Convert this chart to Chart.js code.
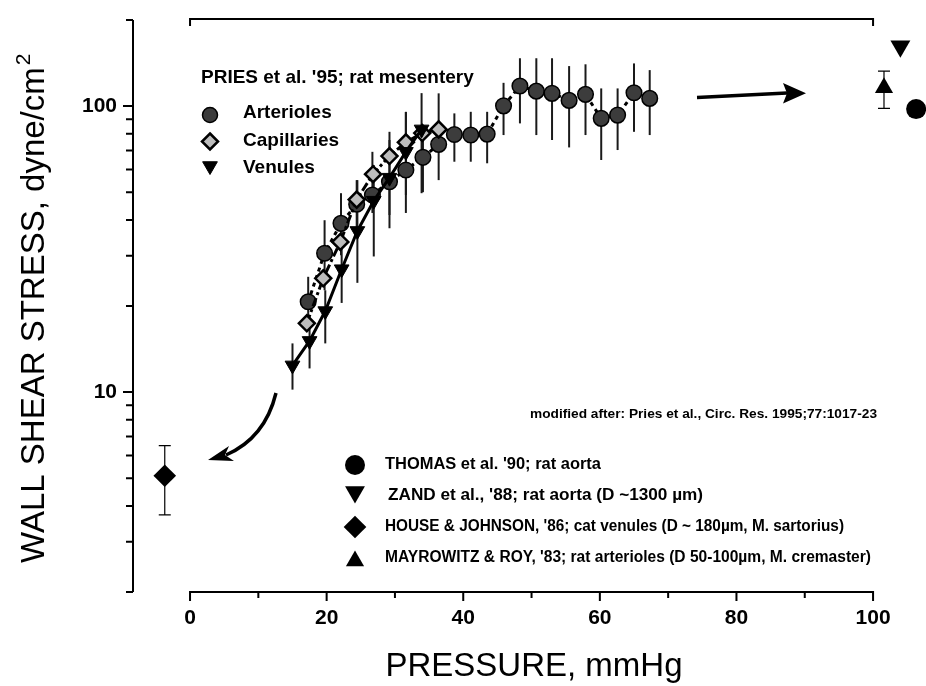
<!DOCTYPE html>
<html>
<head>
<meta charset="utf-8">
<script src="https://cdn.jsdelivr.net/npm/chart.js@4.4.1/dist/chart.umd.min.js"></script>
<style>
  html, body { margin: 0; padding: 0; background: #fff; }
  canvas { display: block; }
</style>
</head>
<body>
<canvas id="shearChart" width="926" height="686"></canvas>
<script>
// ===== Data (Pries et al. '95; rat mesentery) =====
const arterioleX  = [17.3, 19.7, 22.1, 24.4, 26.7, 29.2, 31.6, 34.1, 36.4, 38.7, 41.1, 43.5, 45.9, 48.3, 50.7, 53.0, 55.5, 57.9, 60.2, 62.6, 65.0, 67.3];
const arterioleY  = [20.7, 30.6, 38.9, 45.4, 48.9, 54.4, 59.8, 66.2, 73.5, 79.6, 79.2, 79.8, 100.2, 117.5, 112.8, 110.8, 104.7, 109.9, 90.6, 93.0, 111.3, 106.4];
const arterioleHi = [25.3, 39.9, 49.6, 55.1, 69.2, 81.3, 95.5, 85.0, 110.8, 94.3, 95.5, 95.5, 120.6, 147, 147, 147, 138, 140, 115.3, 115.3, 141, 133.6];
const arterioleLo = [16.9, 22.7, 30.1, 35.9, 42.3, 37.4, 42.3, 50.0, 55.1, 63.9, 63.9, 63.1, 79.2, 87.0, 79.2, 76.1, 71.7, 79.2, 64.8, 70.2, 81.3, 79.2];

const capillaryX = [17.1, 19.5, 22.0, 24.4, 26.8, 29.2, 31.6, 34.0, 36.4];
const capillaryY = [17.4, 25.0, 33.5, 47.1, 57.8, 66.9, 74.7, 80.5, 82.9];

const venuleX  = [15.0, 17.5, 19.8, 22.2, 24.5, 26.9, 29.2, 31.6, 33.9];
const venuleY  = [12.4, 15.1, 19.2, 26.9, 36.6, 46.7, 56.2, 69.2, 82.9];
const venuleHi = [14.8, 18.2, 22.7, 36.8, 55.1, 62.2, 76.1, 95.3, 111];
const venuleLo = [10.2, 12.1, 14.8, 20.5, 24.1, 29.8, 41.6, 48.9, 49.6];

// ===== Other studies =====
const thomasX = [106.3];   const thomasY = [97.6];
const zandX = [104.0];     const zandY = [162.0];
const houseX = [-3.7];     const houseY = [5.1];   const houseHi = [6.5];   const houseLo = [3.72];
const mayroX = [101.6];    const mayroY = [116];   const mayroHi = [132.6]; const mayroLo = [98.2];

// ===== Axes =====
const xTicks = [0, 10, 20, 30, 40, 50, 60, 70, 80, 90, 100];
const xLabels = [0, 20, 40, 60, 80, 100];
const yTicks = [2, 3, 4, 5, 6, 7, 8, 9, 10, 20, 30, 40, 50, 60, 70, 80, 90, 100, 200];
const yLabels = [10, 100];

const FONT = '"Liberation Sans", Arial, Helvetica, sans-serif';
const toPoints = (xs, ys) => xs.map((x, i) => ({ x: x, y: ys[i] }));

// simple marker for the legends
function marker(ctx, style, x, y, r, fill, lw) {
  ctx.save();
  ctx.fillStyle = fill;
  ctx.strokeStyle = '#000';
  ctx.lineWidth = lw;
  ctx.beginPath();
  if (style === 'circle') {
    ctx.arc(x, y, r, 0, Math.PI * 2);
  } else if (style === 'diamond') {
    ctx.moveTo(x, y - r); ctx.lineTo(x + r, y); ctx.lineTo(x, y + r); ctx.lineTo(x - r, y);
    ctx.closePath();
  } else if (style === 'down') {
    const h = r * Math.sqrt(3) / 2;
    ctx.moveTo(x - h, y - r / 2); ctx.lineTo(x + h, y - r / 2); ctx.lineTo(x, y + r);
    ctx.closePath();
  } else if (style === 'up') {
    const h = r * Math.sqrt(3) / 2;
    ctx.moveTo(x - h, y + r / 2); ctx.lineTo(x + h, y + r / 2); ctx.lineTo(x, y - r);
    ctx.closePath();
  }
  ctx.fill();
  if (lw > 0) ctx.stroke();
  ctx.restore();
}

// text squeezed/stretched to the width it has in the figure
function fitText(ctx, text, left, right, y) {
  const w = ctx.measureText(text).width;
  ctx.save();
  ctx.translate(left, y);
  ctx.scale((right - left) / w, 1);
  ctx.fillText(text, 0, 0);
  ctx.restore();
}

// ===== Error bars (under the markers) =====
const errorBarPlugin = {
  id: 'errorBars',
  beforeDatasetsDraw(chart) {
    const { ctx, scales: { x, y } } = chart;
    const bars = (xs, his, los, cap, lw) => {
      xs.forEach((v, i) => {
        const px = x.getPixelForValue(v);
        const top = y.getPixelForValue(his[i]);
        const bot = y.getPixelForValue(los[i]);
        ctx.lineWidth = lw;
        ctx.beginPath();
        ctx.moveTo(px, top); ctx.lineTo(px, bot);
        if (cap) {
          ctx.moveTo(px - cap, top); ctx.lineTo(px + cap, top);
          ctx.moveTo(px - cap, bot); ctx.lineTo(px + cap, bot);
        }
        ctx.stroke();
      });
    };
    ctx.save();
    ctx.strokeStyle = '#1a1a1a';
    bars(arterioleX, arterioleHi, arterioleLo, 0, 2);
    bars(venuleX, venuleHi, venuleLo, 0, 2);
    ctx.strokeStyle = '#000';
    bars(houseX, houseHi, houseLo, 6, 1.2);
    bars(mayroX, mayroHi, mayroLo, 6, 1.2);
    ctx.restore();
  }
};

// ===== Axis lines, ticks, titles, legends, arrows =====
const decorPlugin = {
  id: 'decor',
  afterDraw(chart) {
    const { ctx, scales: { x, y } } = chart;
    const x0 = x.getPixelForValue(0), x100 = x.getPixelForValue(100);
    const yBot = y.getPixelForValue(2), yTop = y.getPixelForValue(200);
    const axisX = chart.chartArea.left;
    ctx.save();
    ctx.strokeStyle = '#000';
    ctx.fillStyle = '#000';
    ctx.lineCap = 'butt';

    // y axis
    ctx.lineWidth = 2;
    ctx.beginPath();
    ctx.moveTo(axisX, yTop); ctx.lineTo(axisX, yBot);
    yTicks.forEach(v => {
      const py = y.getPixelForValue(v);
      const len = yLabels.includes(v) ? 10 : 7;
      ctx.moveTo(axisX, py); ctx.lineTo(axisX - len, py);
    });
    ctx.stroke();

    // bottom x axis
    ctx.beginPath();
    ctx.moveTo(x0 - 1, yBot); ctx.lineTo(x100 + 1, yBot);
    xTicks.forEach(v => {
      const px = x.getPixelForValue(v);
      const len = xLabels.includes(v) ? 9 : 6;
      ctx.moveTo(px, yBot); ctx.lineTo(px, yBot + len);
    });
    ctx.stroke();

    // top frame line
    ctx.beginPath();
    ctx.moveTo(x0, yTop + 6); ctx.lineTo(x0, yTop - 1); ctx.lineTo(x100, yTop - 1); ctx.lineTo(x100, yTop + 6);
    ctx.stroke();

    // axis titles
    ctx.font = '33px ' + FONT;
    ctx.textBaseline = 'alphabetic';
    ctx.textAlign = 'center';
    ctx.fillText('PRESSURE, mmHg', 534, 676);

    ctx.save();
    ctx.translate(44, 563);
    ctx.rotate(-Math.PI / 2);
    ctx.textAlign = 'left';
    const yTitle = 'WALL SHEAR STRESS, dyne/cm';
    ctx.fillText(yTitle, 0, 0);
    const w = ctx.measureText(yTitle).width;
    ctx.font = '21px ' + FONT;
    ctx.fillText('2', w + 2, -14);
    ctx.restore();

    // top legend (Pries)
    ctx.textAlign = 'left';
    ctx.textBaseline = 'middle';
    ctx.font = 'bold 19px ' + FONT;
    ctx.fillText("PRIES et al. '95; rat mesentery", 201, 78);
    ctx.fillText('Arterioles', 243, 113);
    ctx.fillText('Capillaries', 243, 141);
    ctx.fillText('Venules', 243, 168);
    marker(ctx, 'circle', 210, 115, 7.5, '#3c3c3c', 1.5);
    marker(ctx, 'diamond', 210, 141.5, 8, '#bdbdbd', 2.5);
    marker(ctx, 'down', 210, 166, 8.5, '#000', 1);

    // source note
    ctx.font = 'bold 12px ' + FONT;
    fitText(ctx, 'modified after: Pries et al., Circ. Res. 1995;77:1017-23', 530, 877, 415);

    // bottom legend (other studies)
    ctx.font = 'bold 16px ' + FONT;
    fitText(ctx, "THOMAS et al. '90; rat aorta", 385, 601, 465);
    fitText(ctx, "ZAND et al., '88; rat aorta (D ~1300 µm)", 388, 703, 496);
    fitText(ctx, "HOUSE & JOHNSON, '86; cat venules (D ~ 180µm, M. sartorius)", 385, 844, 527);
    fitText(ctx, "MAYROWITZ & ROY, '83; rat arterioles (D 50-100µm, M. cremaster)", 385, 871, 558);
    marker(ctx, 'circle', 355, 465, 10, '#000', 0);
    marker(ctx, 'down', 355, 492, 11.5, '#000', 0);
    marker(ctx, 'diamond', 355, 527, 11.3, '#000', 0);
    marker(ctx, 'up', 355, 561, 10.5, '#000', 0);

    // curved arrow to the left point
    ctx.lineWidth = 3.5;
    ctx.beginPath();
    ctx.moveTo(276, 393);
    ctx.quadraticCurveTo(265, 438, 226, 455);
    ctx.stroke();
    ctx.beginPath();
    ctx.moveTo(208, 460); ctx.lineTo(229, 446); ctx.lineTo(225, 455); ctx.lineTo(234, 461);
    ctx.closePath();
    ctx.fill();

    // straight arrow to the right points
    ctx.beginPath();
    ctx.moveTo(697, 97.5); ctx.lineTo(787, 93);
    ctx.stroke();
    ctx.beginPath();
    ctx.moveTo(806, 93.3); ctx.lineTo(783, 83); ctx.lineTo(787, 93.3); ctx.lineTo(783, 103.5);
    ctx.closePath();
    ctx.fill();

    ctx.restore();
  }
};

const ctx = document.getElementById('shearChart').getContext('2d');

new Chart(ctx, {
  type: 'scatter',
  data: {
    datasets: [
      {
        label: 'Venules',
        data: toPoints(venuleX, venuleY),
        showLine: true,
        borderColor: '#000',
        borderWidth: 3,
        pointStyle: 'triangle',
        pointRotation: 180,
        pointRadius: 8.5,
        pointBackgroundColor: '#000',
        pointBorderColor: '#000',
        pointBorderWidth: 1,
        clip: false
      },
      {
        label: 'Capillaries',
        data: toPoints(capillaryX, capillaryY),
        showLine: true,
        borderColor: '#000',
        borderWidth: 3,
        borderDash: [9, 3, 3, 3],
        pointStyle: 'rectRot',
        pointRadius: 8,
        pointBackgroundColor: '#bdbdbd',
        pointBorderColor: '#000',
        pointBorderWidth: 2.5,
        clip: false
      },
      {
        label: 'Arterioles',
        data: toPoints(arterioleX, arterioleY),
        showLine: true,
        borderColor: '#000',
        borderWidth: 3,
        borderDash: [4, 4],
        pointStyle: 'circle',
        pointRadius: 7.8,
        pointBackgroundColor: '#3c3c3c',
        pointBorderColor: '#000',
        pointBorderWidth: 1.5,
        clip: false
      },
      {
        label: "THOMAS et al. '90",
        data: toPoints(thomasX, thomasY),
        pointStyle: 'circle', pointRadius: 10,
        pointBackgroundColor: '#000', pointBorderColor: '#000', pointBorderWidth: 0,
        clip: false
      },
      {
        label: "ZAND et al., '88",
        data: toPoints(zandX, zandY),
        pointStyle: 'triangle', pointRotation: 180, pointRadius: 11.5,
        pointBackgroundColor: '#000', pointBorderColor: '#000', pointBorderWidth: 0,
        clip: false
      },
      {
        label: "HOUSE & JOHNSON, '86",
        data: toPoints(houseX, houseY),
        pointStyle: 'rectRot', pointRadius: 11.3,
        pointBackgroundColor: '#000', pointBorderColor: '#000', pointBorderWidth: 0,
        clip: false
      },
      {
        label: "MAYROWITZ & ROY, '83",
        data: toPoints(mayroX, mayroY),
        pointStyle: 'triangle', pointRadius: 10.5,
        pointBackgroundColor: '#000', pointBorderColor: '#000', pointBorderWidth: 0,
        clip: false
      }
    ]
  },
  options: {
    responsive: false,
    animation: false,
    devicePixelRatio: 1,
    layout: { autoPadding: false, padding: { top: 20, right: 0, bottom: 0, left: 0 } },
    plugins: { legend: { display: false }, tooltip: { enabled: false } },
    scales: {
      x: {
        type: 'linear',
        min: -8.35,
        max: 107.75,
        afterBuildTicks: s => { s.ticks = xTicks.map(v => ({ value: v })); },
        afterFit: s => { s.height = 94; s.paddingLeft = 0; s.paddingRight = 0; },
        grid: { display: false, drawTicks: false },
        border: { display: false },
        ticks: {
          padding: 14,
          autoSkip: false,
          maxRotation: 0,
          color: '#000',
          font: { family: FONT, size: 21, weight: 'bold' },
          callback: v => xLabels.includes(v) ? String(v) : ''
        }
      },
      y: {
        type: 'logarithmic',
        min: 2,
        max: 200,
        afterBuildTicks: s => { s.ticks = yTicks.map(v => ({ value: v })); },
        afterFit: s => { s.width = 133; s.paddingTop = 0; s.paddingBottom = 0; },
        grid: { display: false, drawTicks: false },
        border: { display: false },
        ticks: {
          padding: 16,
          autoSkip: false,
          color: '#000',
          font: { family: FONT, size: 21, weight: 'bold' },
          callback: v => yLabels.includes(v) ? String(v) : ''
        }
      }
    }
  },
  plugins: [errorBarPlugin, decorPlugin]
});
</script>
</body>
</html>
